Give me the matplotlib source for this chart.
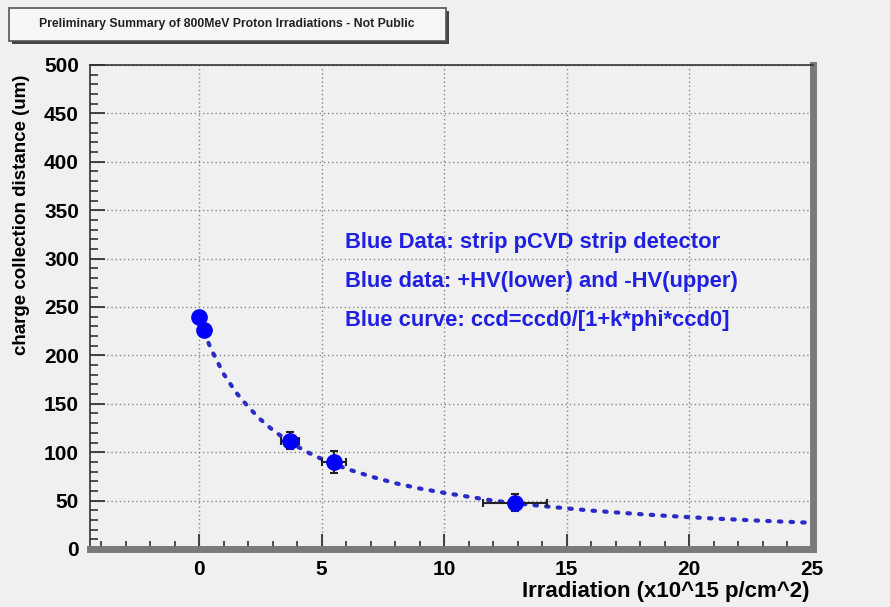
import numpy as np
import matplotlib
matplotlib.use("Agg")
import matplotlib.pyplot as plt
from matplotlib.patches import Rectangle
from matplotlib.ticker import MultipleLocator

# Data points
phi = [0.0, 0.2, 3.7, 5.5, 12.9]
ccd = [240, 226, 112, 90, 48]
phi_err = [0.0, 0.0, 0.37, 0.5, 1.3]
ccd_err = [5, 6, 9, 11, 9]

# Fit curve values
curve_phi = [0.2, 0.5, 1, 1.5, 2, 2.5, 3, 3.5, 4, 4.5, 5, 6, 7, 8, 9, 10, 11, 12,
             13, 14, 15, 16, 17, 18, 19, 20, 21, 22, 23, 24, 25]
curve_ccd = [224, 206, 181, 162, 147, 134, 123, 114, 106, 99, 93, 83, 75, 68, 62.5,
             58, 54, 50, 47, 44.4, 42, 39.7, 37.8, 36, 34.4, 32.9, 31.5, 30.3, 29.1,
             28.1, 27.1]

title = "Preliminary Summary of 800MeV Proton Irradiations - Not Public"
xlabel = "Irradiation (x10^15 p/cm^2)"
ylabel = "charge collection distance (um)"
notes = ["Blue Data: strip pCVD strip detector",
         "Blue data: +HV(lower) and -HV(upper)",
         "Blue curve: ccd=ccd0/[1+k*phi*ccd0]"]

FONT = ["Liberation Sans", "DejaVu Sans"]
plt.rcParams['font.family'] = FONT
plt.rcParams['font.weight'] = 'bold'

bg = "#f0f0f0"
fig = plt.figure(figsize=(8.9, 6.07), dpi=100, facecolor=bg)
ax = fig.add_axes([90/890, 1-549/607, (813-90)/890, (549-65)/607], facecolor=bg)

ax.set_xlim(-4.45, 25.05)
ax.set_ylim(0, 500)

ax.xaxis.set_major_locator(MultipleLocator(5))
ax.xaxis.set_minor_locator(MultipleLocator(1))
ax.yaxis.set_major_locator(MultipleLocator(50))
ax.yaxis.set_minor_locator(MultipleLocator(10))
ax.tick_params(which='both', direction='in', top=False, right=False, color='#333333')
ax.tick_params(which='major', length=11, width=1.3, labelsize=15, pad=8)
ax.tick_params(which='minor', length=6, width=1.2)
for lab in ax.get_xticklabels() + ax.get_yticklabels():
    lab.set_fontweight('bold')
ax.grid(True, which='major', color='#888888', linestyle=(0, (1, 2)), linewidth=1.0)

for s in ['left', 'top']:
    ax.spines[s].set_color('#333333')
    ax.spines[s].set_linewidth(1.2)
for s in ['bottom', 'right']:
    ax.spines[s].set_color('#7a7a7a')
    ax.spines[s].set_linewidth(5)

ax.plot(curve_phi, curve_ccd, linestyle=(0, (0.6, 2.2)), color='#2b2bc8',
        linewidth=3.0, dash_capstyle='round', solid_capstyle='round', zorder=3)
ax.errorbar(phi, ccd, xerr=phi_err, yerr=ccd_err, fmt='o', color='#0000ff',
            markersize=11, ecolor='#222222', elinewidth=1.5, capsize=3,
            capthick=1.5, zorder=4)

for i, t in enumerate(notes):
    fig.text(345/890, 1 - (242 + 39.5 * i)/607, t, fontsize=15.8, fontweight='bold',
             color='#2020e0', va='center', ha='left')

fig.text(810/890, 1 - 592/607, xlabel, fontsize=16, fontweight='bold',
         ha='right', va='center')
ax.set_ylabel(ylabel, fontsize=13.5, fontweight='bold', loc='top', labelpad=10)
ax.yaxis.label.set_y(0.98)

# title box with shadow
fig.patches.append(Rectangle((12/890, 1-44/607), 437/890, 33/607, transform=fig.transFigure,
                             facecolor='#444444', edgecolor='none'))
fig.patches.append(Rectangle((9/890, 1-41/607), 437/890, 33/607, transform=fig.transFigure,
                             facecolor='#f6f6f6', edgecolor='#555555', linewidth=1.2))
fig.text(227/890, 1-24/607, title, fontsize=8.8, fontweight='bold', ha='center',
         va='center', color='#222222')

fig.savefig("out.png", dpi=100, facecolor=bg)
